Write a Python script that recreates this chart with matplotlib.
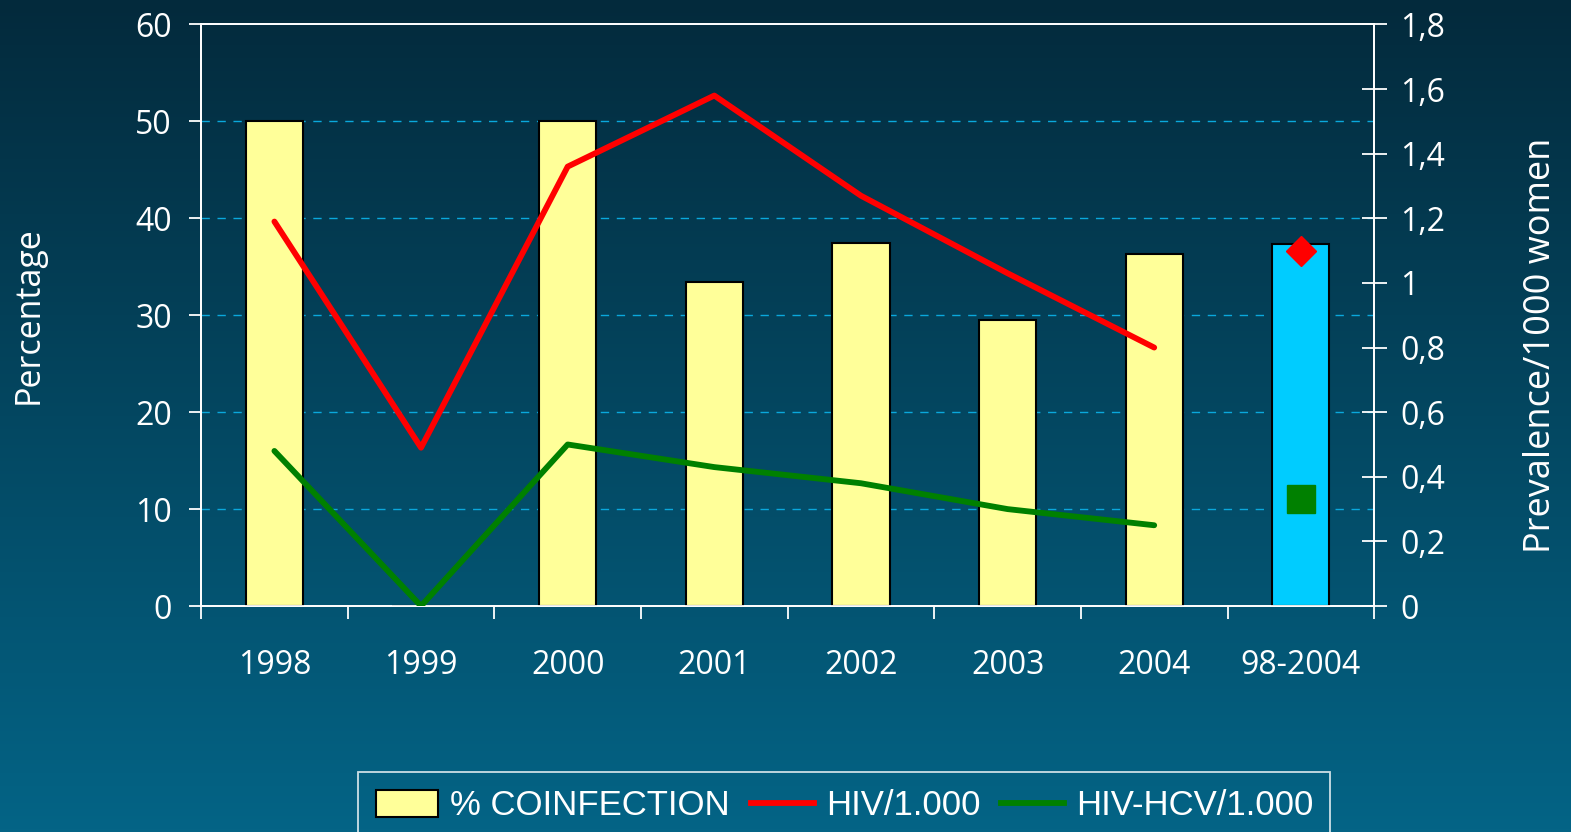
import matplotlib
matplotlib.use('Agg')
import matplotlib.pyplot as plt
import numpy as np
from matplotlib.colors import LinearSegmentedColormap
from matplotlib.patches import Patch
from matplotlib.lines import Line2D

years = ['1998', '1999', '2000', '2001', '2002', '2003', '2004', '98-2004']
coinfection = [50, 0, 50, 33.4, 37.5, 29.5, 36.3, 37.4]
hiv = [1.19, 0.49, 1.36, 1.58, 1.27, 1.03, 0.80]
hiv_hcv = [0.48, 0.0, 0.50, 0.43, 0.38, 0.30, 0.25]
hiv_total = 1.10
hiv_hcv_total = 0.33

plt.rcParams['font.family'] = ['Open Sans', 'DejaVu Sans']
white = 'white'

fig = plt.figure(figsize=(15.71, 8.32), dpi=100)

# background gradient
bg = fig.add_axes([0, 0, 1, 1], zorder=-10)
cmap = LinearSegmentedColormap.from_list('bg', ['#032a3c', '#046486'])
bg.imshow(np.linspace(0, 1, 256).reshape(-1, 1), aspect='auto', cmap=cmap,
          extent=[0, 1, 0, 1])
bg.axis('off')

ax = fig.add_axes([0.128, 0.2716, 0.7467, 0.699])
ax.set_facecolor('none')
x = np.arange(len(years))
colors = ['#ffff99'] * 7 + ['#00ccff']
ax.bar(x, coinfection, width=0.39, color=colors, edgecolor='black', linewidth=1.5, zorder=3)
ax.set_xlim(-0.5, 7.5)
ax.set_ylim(0, 60)
ax.set_yticks(range(0, 61, 10))
for v in range(10, 60, 10):
    ax.axhline(v, color='#0aa8dc', lw=1.0, ls=(0, (6, 5.5)), zorder=1)

ax.set_xticks(x)
ax.set_xticklabels(years)
ax.set_xticks(np.arange(-0.5, 8, 1), minor=True)
ax.tick_params(axis='x', which='major', length=0, pad=31, labelsize=23, colors=white)
ax.tick_params(axis='x', which='minor', length=9, width=1.3, color=white, direction='out')
ax.tick_params(axis='y', length=9, width=1.3, pad=12, labelsize=23, colors=white)
for s in ax.spines.values():
    s.set_color(white)
    s.set_linewidth(1.3)

ax2 = ax.twinx()
ax2.set_ylim(0, 1.8)
ax2.set_xlim(-0.5, 7.5)
ticks2 = [0, 0.2, 0.4, 0.6, 0.8, 1.0, 1.2, 1.4, 1.6, 1.8]
ax2.set_yticks(ticks2)
ax2.set_yticklabels(['0', '0,2', '0,4', '0,6', '0,8', '1', '1,2', '1,4', '1,6', '1,8'])
ax2.tick_params(axis='y', direction='inout', length=18, width=1.3, pad=10,
                labelsize=23, colors=white)
for s in ax2.spines.values():
    s.set_color(white)
    s.set_linewidth(1.3)

ax2.plot(x[:7], hiv, color='#ff0000', lw=4.2, solid_capstyle='round', zorder=4)
ax2.plot(x[:7], hiv_hcv, color='#008000', lw=4.2, solid_capstyle='round', zorder=4)
ax2.plot([x[7]], [hiv_total], marker='D', ms=15, color='#ff0000', ls='none', zorder=5)
ax2.plot([x[7]], [hiv_hcv_total], marker='s', ms=20, color='#008000', ls='none', zorder=5)

fig.text(0.018, 0.621, 'Percentage', rotation=90, ha='center', va='center',
         color=white, fontsize=24.5)
fig.text(0.981, 0.585, 'Prevalence/1000 women', rotation=90, ha='center', va='center',
         color=white, fontsize=26)

handles = [Patch(facecolor='#ffff99', edgecolor='black', linewidth=1.5),
           Line2D([], [], color='#ff0000', lw=4.2),
           Line2D([], [], color='#008000', lw=4.2)]
labels = ['% COINFECTION', 'HIV/1.000', 'HIV-HCV/1.000']
leg = fig.legend(handles, labels, loc='upper center',
                 bbox_to_anchor=(0.5375, 1 - 772 / 832), bbox_transform=fig.transFigure,
                 ncol=3, frameon=True, fancybox=False, borderaxespad=0,
                 prop={'family': ['Liberation Sans', 'DejaVu Sans'], 'size': 25},
                 labelcolor=white, handlelength=1.8, handleheight=0.8, handletextpad=0.35,
                 columnspacing=0.6, borderpad=0.5)
leg.get_frame().set_facecolor('none')
leg.get_frame().set_edgecolor(white)
leg.get_frame().set_linewidth(1.3)

fig.savefig('out.png', dpi=100)
